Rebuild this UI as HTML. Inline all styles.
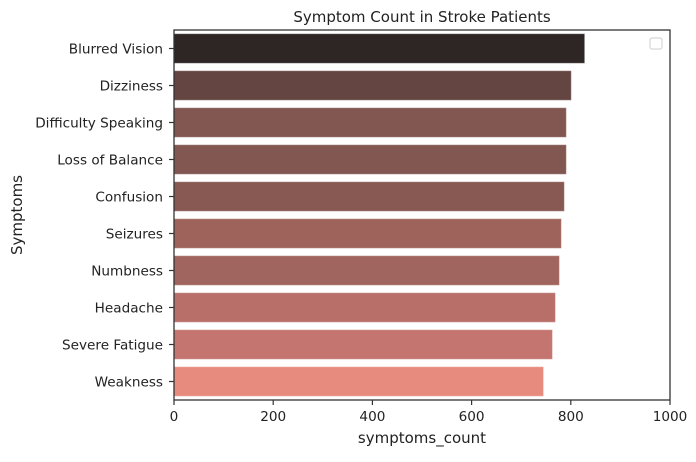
<!DOCTYPE html>
<html><head><meta charset="utf-8"><style>
body{margin:0;background:#fff;font-family:"DejaVu Sans","Liberation Sans",sans-serif;}
svg text{font-family:"DejaVu Sans","Liberation Sans",sans-serif;fill:#222;}
</style></head><body>
<svg id="chart" width="696" height="458"></svg>
<script>
const categories=["Blurred Vision","Dizziness","Difficulty Speaking","Loss of Balance","Confusion","Seizures","Numbness","Headache","Severe Fatigue","Weakness"];
const counts=[828,801,791,791,787,781,777,769,763,745];
const colors=["#2e2624","#654541","#825751","#825751","#885953","#9e635b","#a0655e","#b86f69","#c4756f","#e88b7f"];
const xTicks=[0,200,400,600,800,1000];
const L=174,R=670,T=30,B=400;
const svg=document.getElementById('chart');
const NS="http://www.w3.org/2000/svg";
function x(v){return L+(v/1000)*(R-L);}
const band=(B-T)/categories.length;
function y(i){return T+band*i;}
function mk(tag,attrs,txt){const e=document.createElementNS(NS,tag);for(const k in attrs)e.setAttribute(k,attrs[k]);if(txt!==undefined)e.textContent=txt;svg.appendChild(e);return e;}
categories.forEach((c,i)=>{
  const r=mk('rect',{x:x(0),y:y(i)+band*0.1,width:x(counts[i])-x(0),height:band*0.8,fill:colors[i],stroke:'rgba(255,255,255,0.35)','stroke-width':1});
  
  
  const t=mk('text',{x:L-11,y:y(i)+band/2+5,'text-anchor':'end','font-size':13.6},c);
  
  
  mk('line',{x1:L-5,x2:L,y1:y(i)+band/2,y2:y(i)+band/2,stroke:'#333','stroke-width':1.2});
});
xTicks.forEach(v=>{
  mk('line',{x1:x(v),x2:x(v),y1:B,y2:B+5,stroke:'#333','stroke-width':1.2});
  const t=mk('text',{x:x(v),y:B+21,'text-anchor':'middle','font-size':13.6},String(v));
  
  
});
const f=mk('rect',{x:L,y:T,width:R-L,height:B-T,fill:'none',stroke:'#333','stroke-width':1.3});


const lg=mk('rect',{x:650,y:38,width:12,height:11,rx:2,fill:'#fff',stroke:'#ccc'});


const ti=mk('text',{x:(L+R)/2,y:22,'text-anchor':'middle','font-size':15},'Symptom Count in Stroke Patients');


const xt=mk('text',{x:(L+R)/2,y:443,'text-anchor':'middle','font-size':15},'symptoms_count');


const yt=mk('text',{x:22,y:(T+B)/2,'text-anchor':'middle','font-size':15,transform:'rotate(-90 22 '+((T+B)/2)+')'},'Symptoms');


</script>
</body></html>
